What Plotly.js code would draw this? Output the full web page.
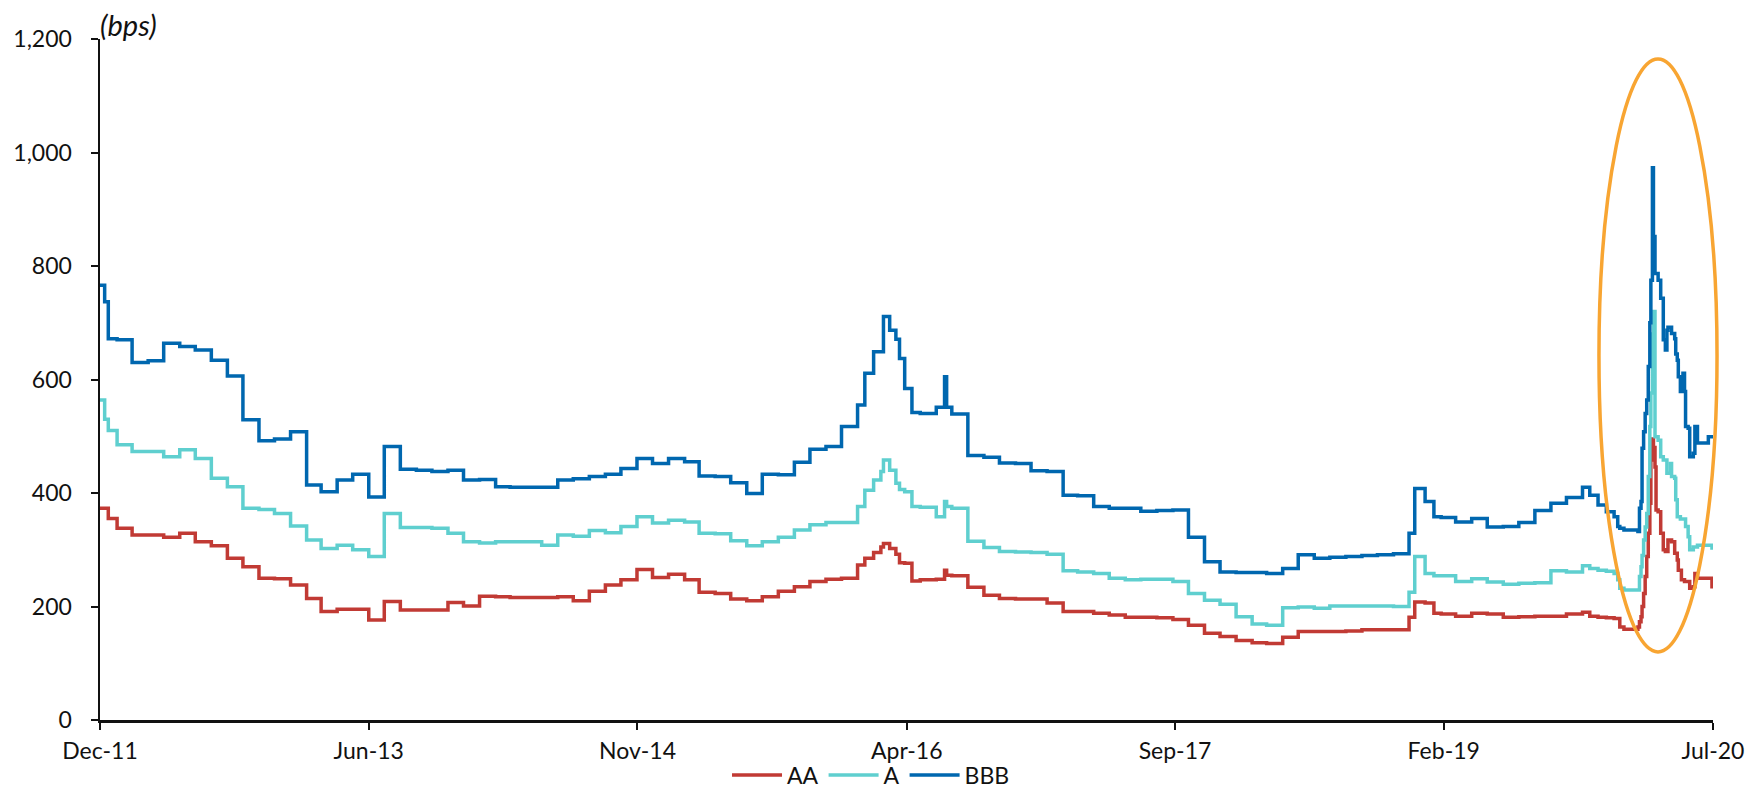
<!DOCTYPE html>
<html>
<head>
<meta charset="utf-8">
<script src="https://cdn.plot.ly/plotly-3.0.1.min.js"></script>
<style>html,body{margin:0;padding:0;background:#fff;}#chart{width:1764px;height:791px;}</style>
</head>
<body>
<div id="chart"></div>
<script>
const dates = [
"2011-12-30","2012-01-08","2012-01-15","2012-02-01","2012-03-01","2012-04-01","2012-05-01","2012-06-01","2012-07-01","2012-08-01","2012-09-01","2012-10-01","2012-11-01","2012-12-01",
"2013-01-01","2013-02-01","2013-03-01","2013-04-01","2013-05-01","2013-06-01","2013-07-01","2013-08-01","2013-09-01","2013-10-01","2013-11-01","2013-12-01",
"2014-01-01","2014-02-01","2014-03-01","2014-04-01","2014-05-01","2014-06-01","2014-07-01","2014-08-01","2014-09-01","2014-10-01","2014-11-01","2014-12-01",
"2015-01-01","2015-02-01","2015-03-01","2015-04-01","2015-05-01","2015-06-01","2015-07-01","2015-08-01","2015-09-01","2015-10-01","2015-11-01","2015-12-01",
"2016-01-01","2016-01-15","2016-02-01","2016-02-15","2016-02-20","2016-03-03","2016-03-15","2016-03-22","2016-04-01","2016-04-15","2016-05-01","2016-06-01","2016-06-17","2016-06-21","2016-07-01","2016-08-01","2016-09-01","2016-10-01","2016-11-01","2016-12-01",
"2017-01-01","2017-02-01","2017-03-01","2017-04-01","2017-05-01","2017-06-01","2017-07-01","2017-08-01","2017-09-01","2017-10-01","2017-11-01","2017-12-01",
"2018-01-01","2018-02-01","2018-03-01","2018-04-01","2018-05-01","2018-06-01","2018-07-01","2018-08-01","2018-09-01","2018-10-01","2018-11-01","2018-12-01","2018-12-12",
"2019-01-01","2019-01-18","2019-02-01","2019-03-01","2019-04-01","2019-05-01","2019-06-01","2019-07-01","2019-08-01","2019-09-01","2019-10-01","2019-11-01","2019-11-15","2019-12-01","2019-12-17",
"2020-01-01","2020-01-08","2020-01-12","2020-01-20","2020-02-16","2020-02-19","2020-02-22","2020-02-24","2020-02-27","2020-03-01","2020-03-04","2020-03-07","2020-03-10","2020-03-12","2020-03-15","2020-03-17","2020-03-20","2020-03-22","2020-03-26","2020-03-31",
"2020-04-05","2020-04-09","2020-04-12","2020-04-14","2020-04-19","2020-04-21","2020-04-27","2020-04-29","2020-05-02","2020-05-04","2020-05-08","2020-05-10","2020-05-13","2020-05-16","2020-05-18","2020-05-23","2020-05-26","2020-06-02","2020-06-05","2020-06-10","2020-07-01","2020-07-08","2020-07-10"
];

const bbb = [
766,737,672,670,630,633,664,658,652,634,606,529,492,495,
508,414,402,423,433,393,482,442,440,438,440,423,
424,411,410,410,410,423,425,429,433,443,461,452,
461,455,430,429,418,399,433,432,454,477,482,517,
555,611,649,649,711,687,671,637,584,542,540,551,605,551,539,466,463,453,452,439,
438,396,395,376,373,373,368,369,370,322,279,261,
260,260,258,267,291,285,287,288,290,291,293,329,408,
385,358,357,349,355,340,341,348,369,382,392,410,396,379,367,
358,341,338,335,332,373,385,479,508,540,564,623,700,775,973,852,787,787,775,743,
670,652,687,692,692,681,672,645,634,605,579,579,611,579,517,514,464,470,517,488,499,499,499
];

const a = [
564,530,510,485,473,473,464,476,461,426,411,373,371,364,
342,317,302,308,300,288,364,339,339,338,329,314,
312,314,314,314,308,326,324,334,330,341,358,347,
352,349,329,328,316,307,314,322,335,344,348,348,
376,405,423,438,458,440,417,406,402,376,375,358,385,376,373,315,304,297,296,295,
292,263,261,258,250,247,248,248,244,223,211,204,
182,169,167,198,199,197,201,201,201,201,200,225,288,
258,254,254,244,249,243,239,241,242,263,261,272,267,264,262,
258,247,232,229,229,253,270,290,317,340,364,429,517,576,680,720,499,499,493,464,
458,458,435,435,452,429,426,388,358,358,354,354,354,354,341,323,300,305,305,308,308,303,303
];

const aa = [
373,373,355,338,326,326,322,329,314,307,285,270,250,249,
238,214,191,195,195,176,209,194,194,194,207,201,
218,217,216,216,216,217,210,227,238,247,265,251,
257,247,225,223,213,210,217,227,235,244,248,250,
273,285,295,305,311,302,292,277,276,245,247,248,264,255,254,234,220,214,213,213,
206,191,191,188,185,181,181,180,177,167,153,147,
140,136,135,146,156,156,156,157,159,159,159,181,208,
206,188,187,183,188,187,181,182,183,183,187,190,183,181,180,
179,179,164,160,164,173,182,200,223,253,288,329,382,458,495,480,446,370,367,329,
300,297,297,317,317,314,294,294,282,264,264,247,247,244,244,244,232,235,258,250,250,235,235
];

const tickDates = ["2011-12-30","2013-06-01","2014-11-02","2016-04-05","2017-09-05","2019-02-06","2020-07-10"];
const tickLabels = ["Dec-11","Jun-13","Nov-14","Apr-16","Sep-17","Feb-19","Jul-20"];
const yTicks = [0,200,400,600,800,1000,1200];

const FONT = "Lato, 'Open Sans', sans-serif";
const seriesNames = ["AA","A","BBB"];
const seriesData = [aa, a, bbb];
const seriesColors = ["#C13A34","#5FCFCF","#0067AF"];

const traces = seriesNames.map((n,i)=>({
  type:"scatter", mode:"lines", name:n, x:dates, y:seriesData[i],
  line:{color:seriesColors[i], width:3.5, shape:"hv"}
}));

const layout = {
  width:1764, height:791,
  margin:{l:100, r:51, t:39, b:71, autoexpand:false},
  paper_bgcolor:"#fff", plot_bgcolor:"#fff",
  font:{family:FONT, size:23, color:"#111"},
  showlegend:true,
  legend:{orientation:"h", x:0.478, xanchor:"center", y:-0.081, yanchor:"middle",
          bgcolor:"rgba(0,0,0,0)",
          font:{family:FONT, size:23, color:"#111"}, traceorder:"normal", itemwidth:50},
  xaxis:{type:"date", range:[tickDates[0], tickDates[tickDates.length-1]],
         tickmode:"array", tickvals:tickDates, ticktext:tickLabels,
         showline:true, linecolor:"#111", linewidth:2.5, ticks:"outside", ticklen:7, tickwidth:2, tickcolor:"#111",
         showgrid:false, zeroline:false, ticklabelstandoff:2,
         tickfont:{family:FONT, size:23, color:"#111"}},
  yaxis:{range:[0,1200], tickmode:"array", tickvals:yTicks, tickformat:",",
         showline:true, linecolor:"#111", linewidth:2.5, ticks:"outside", ticklen:7, tickwidth:2, tickcolor:"#111",
         showgrid:false, zeroline:false, ticklabelstandoff:14,
         tickfont:{family:FONT, size:23, color:"#111"}},
  annotations:[{text:"<i>(bps)</i>", xref:"paper", yref:"paper", x:0, y:1, xanchor:"left", yanchor:"bottom",
                showarrow:false, xshift:-2, yshift:-5, font:{family:FONT, size:29, color:"#111"}}],
  shapes:[{type:"circle", xref:"paper", yref:"paper", x0:0.9293, x1:1.0025, y0:0.1, y1:0.9706,
           line:{color:"#F8A532", width:3.5}, layer:"above"}]
};

Plotly.newPlot("chart", traces, layout, {displayModeBar:false, staticPlot:true});
</script>
</body>
</html>
